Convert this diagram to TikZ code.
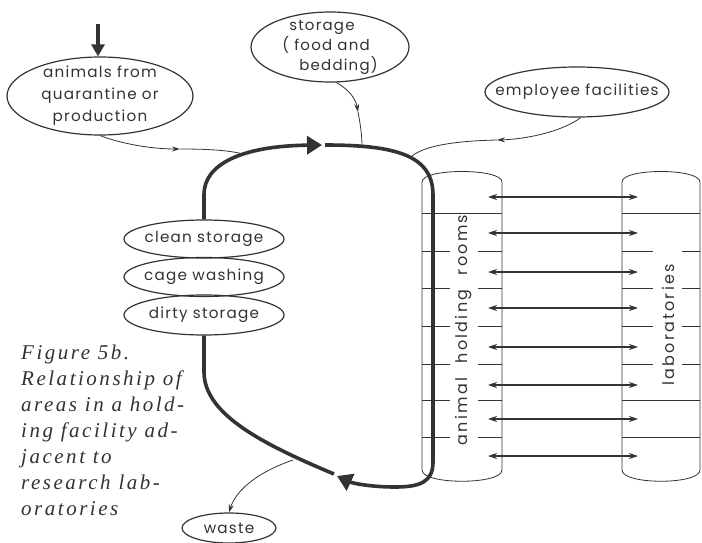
\documentclass[tikz,border=0pt]{standalone}
\usepackage{fontspec}
\setmainfont{Liberation Serif}
\newfontfamily\lett[LetterSpace=8]{Poppins}
\newfontfamily\lettwide[LetterSpace=14]{Poppins}
\newfontfamily\capfont[LetterSpace=12]{Liberation Serif}
\usetikzlibrary{shapes.geometric,arrows.meta}
\definecolor{ink}{HTML}{333333}
\begin{document}
\begin{tikzpicture}[x=1pt,y=-1pt,
  lbl/.style={ellipse,draw=ink,line width=1.2pt,inner sep=-40pt,font=\lett\fontsize{15.2}{22}\selectfont,align=center,text=ink},
  coltext/.style={font=\lettwide\fontsize{16}{22}\selectfont,text=ink,rotate=90,inner sep=0pt},
  thin/.style={draw=ink,line width=0.8pt},
  thinarr/.style={thin,-{Stealth[length=8pt,width=5pt]}},
  heavy/.style={draw=ink,line width=3.6pt},
  heavyarr/.style={heavy,-{Triangle[length=15pt,width=18pt]}},
  col/.style={draw=ink,line width=0.8pt},
  dbl/.style={draw=ink,line width=1.2pt,{Stealth[length=9pt,width=6pt]}-{Stealth[length=9pt,width=6pt]}}
]
\useasboundingbox[fill=white] (0,0) rectangle (702,543);

% ellipses
\node[lbl,minimum width=186pt,minimum height=78pt] (animals) at (100,96) {animals from\\quarantine or\\production};
\node[lbl,minimum width=158pt,minimum height=70pt,align=left,font=\lett\fontsize{15}{20}\selectfont] (storage) at (330,47) {\hspace{7pt}storage\\( food and\\\hspace{17pt}bedding)};
\node[lbl,minimum width=184pt,minimum height=50pt] (employee) at (577,92) {employee facilities};
\node[lbl,minimum width=160pt,minimum height=38pt] (clean) at (204,239) {clean storage};
\node[lbl,minimum width=160pt,minimum height=39pt] (cage) at (204,277) {cage washing};
\node[lbl,minimum width=160pt,minimum height=40pt] (dirty) at (204,315) {dirty storage};
\node[lbl,minimum width=94pt,minimum height=30pt] (waste) at (229,528) {waste};

% columns
\draw[col] (422,182) .. controls (422,168) and (502,168) .. (502,182) -- (502,470) .. controls (502,485) and (422,485) .. (422,470) -- cycle;
\draw[col] (622,182) .. controls (622,168) and (700,168) .. (700,182) -- (700,470) .. controls (700,485) and (622,485) .. (622,470) -- cycle;
\draw[col] (422,213) -- (502,213);
\foreach \y in {251,288,326,364,400,437} {
  \draw[col] (422,\y) -- (450,\y) (478,\y) -- (502,\y);
}
\draw[col] (622,213) -- (700,213) (622,400) -- (700,400) (622,437) -- (700,437);
\foreach \y in {251,288,326,364} {
  \draw[col] (622,\y) -- (653,\y) (682,\y) -- (700,\y);
}
\node[coltext] (holdtxt) at (464,330) {animal\hspace{8pt} holding\hspace{8pt} rooms};
\node[coltext] (labtxt) at (668,325) {laboratories};

% double arrows
\foreach \y [count=\i] in {197,233,272,308,347,385,419,456} {
  \coordinate (l\i) at (488,\y);
  \coordinate (r\i) at (638,\y);
  \draw[dbl] (l\i) -- (r\i);
}

% heavy loop
\coordinate (ttip) at (322,145);
\coordinate (tstart) at (325,145);
\coordinate (btip) at (337,476);
\coordinate (bstart) at (334,474);
\draw[heavyarr] (clean.north) -- ++(0,-25) .. controls (204,165) and (240,146) .. (ttip);
\draw[heavyarr] (tstart) .. controls (395,145) and (433,155) .. (433,195) -- (433,462) .. controls (433,482) and (420,487) .. (395,487) .. controls (370,487) and (352,483) .. (btip);
\draw[heavy] (bstart) .. controls (265,445) and (204,415) .. (204,372) -- (dirty.south);

% big input arrow
\coordinate (din) at (98,24);
\draw[draw=ink,line width=4.5pt,-{Triangle[length=12pt,width=13pt]}] (din) -- (din |- animals.north);

% thin connectors
\coordinate (a1) at (180,149);
\coordinate (a2) at (243,154);
\draw[thinarr] (animals.south) .. controls (125,145) and (155,149) .. (a1);
\draw[thin] (a1) .. controls (205,149) and (228,150) .. (a2);
\coordinate (s1) at (358,112);
\coordinate (s2) at (362,146);
\draw[thinarr] (storage.-80) .. controls (350,90) and (356,100) .. (s1);
\draw[thin] (s1) .. controls (360,122) and (362,135) .. (s2);
\coordinate (e1) at (497,140);
\coordinate (e2) at (410,158);
\draw[thinarr] (employee.-82) .. controls (565,130) and (530,139) .. (e1);
\draw[thin] (e1) .. controls (450,141) and (420,147) .. (e2);
\coordinate (w0) at (293,460);
\draw[thinarr] (w0) .. controls (258,472) and (236,490) .. (waste.north);

% caption
\node[anchor=north west,align=left,inner sep=0pt,text=ink,font=\capfont\itshape\fontsize{21}{26}\selectfont] (cap) at (21,345)
 {Figure 5b.\\Relationship of\\areas in a hold-\\ing facility ad-\\jacent to\\research lab-\\oratories};
\end{tikzpicture}
\end{document}
